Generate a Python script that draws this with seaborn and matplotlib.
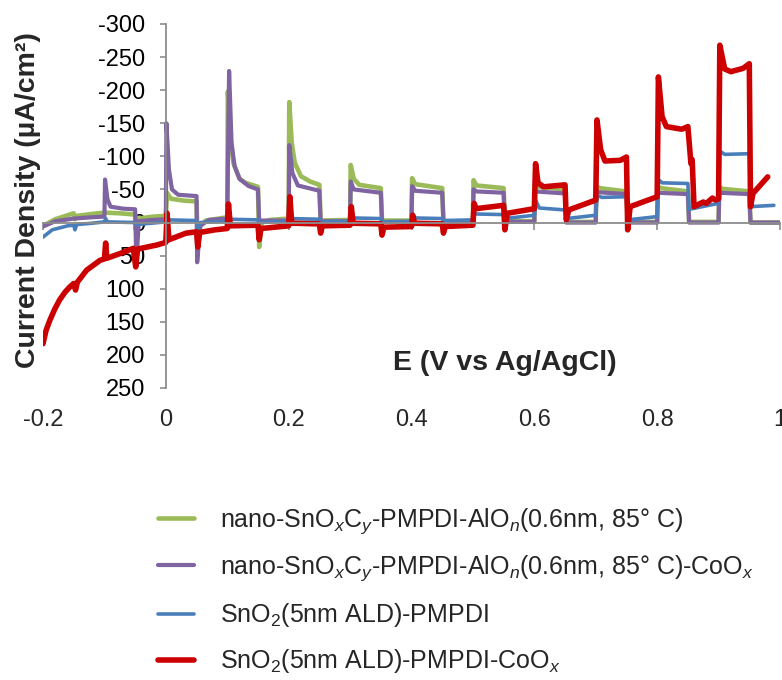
import numpy as np
import pandas as pd
import matplotlib
matplotlib.use("Agg")
import matplotlib.pyplot as plt
import seaborn as sns
from matplotlib.ticker import FuncFormatter

# ---------------- data ----------------
series_names = [
    r"nano-SnO$_x$C$_y$-PMPDI-AlO$_n$(0.6nm, 85° C)",
    r"nano-SnO$_x$C$_y$-PMPDI-AlO$_n$(0.6nm, 85° C)-CoO$_x$",
    r"SnO$_2$(5nm ALD)-PMPDI",
    r"SnO$_2$(5nm ALD)-PMPDI-CoO$_x$",
]
series_colors = ["#9BBB59", "#8064A2", "#4A7EBB", "#CC0000"]
series_widths = [3.3, 3.0, 2.6, 4.0]

green_E = [-0.2, -0.18, -0.16, -0.15, -0.148, -0.145, -0.12, -0.1, -0.075, -0.05, -0.049, -0.045,
           -0.02, 0.0, 0.002, 0.008, 0.03, 0.05, 0.052, 0.056, 0.065, 0.1, 0.101, 0.105, 0.11,
           0.12, 0.13, 0.15, 0.152, 0.156, 0.17, 0.2, 0.201, 0.205, 0.21, 0.22, 0.235, 0.25,
           0.252, 0.3, 0.301, 0.306, 0.315, 0.35, 0.352, 0.4, 0.401, 0.406, 0.45, 0.452, 0.5,
           0.501, 0.506, 0.55, 0.552, 0.6, 0.601, 0.606, 0.65, 0.652, 0.7, 0.701, 0.706, 0.75,
           0.752, 0.8, 0.801, 0.806, 0.85, 0.852, 0.9, 0.901, 0.906, 0.95, 0.952, 1.0]
green_J = [5, -5, -11, -14, -5, -10, -13, -15, -14, -12, 11, -6,
           -9, -10, -45, -36, -33, -32, 40, 5, -3, -8, -198, -130, -90,
           -66, -60, -54, 37, 0, -4, -6, -182, -120, -90, -70, -62, -57,
           -3, -4, -87, -66, -57, -52, -3, -3, -67, -58, -52, -2, -2,
           -64, -56, -52, -2, -2, -57, -54, -50, -1, -1, -55, -52, -47,
           -1, -1, -55, -52, -47, -1, -1, -54, -51, -47, 0, 0]

purple_E = [-0.2, -0.18, -0.15, -0.12, -0.1, -0.099, -0.095, -0.09, -0.07, -0.05, -0.048, -0.044,
            -0.02, 0.0, 0.001, 0.005, 0.01, 0.02, 0.05, 0.051, 0.056, 0.07, 0.1, 0.103, 0.107,
            0.112, 0.12, 0.135, 0.15, 0.152, 0.2, 0.201, 0.206, 0.215, 0.25, 0.252, 0.3, 0.301,
            0.306, 0.35, 0.352, 0.4, 0.401, 0.406, 0.45, 0.452, 0.5, 0.501, 0.506, 0.55, 0.552,
            0.6, 0.601, 0.65, 0.652, 0.7, 0.701, 0.75, 0.752, 0.8, 0.801, 0.85, 0.852, 0.9,
            0.901, 0.95, 0.952, 1.0]
purple_J = [6, -2, -6, -8, -9, -65, -35, -24, -21, -20, 60, -2,
            -4, -5, -150, -80, -50, -42, -40, 60, 5, -4, -6, -229, -120,
            -85, -66, -55, -50, -3, -3, -117, -75, -56, -48, -2, -2, -62,
            -50, -45, -1, -1, -55, -48, -45, -1, -1, -50, -47, -45, -1,
            -1, -47, -44, 0, 0, -46, -43, 0, 0, -45, -43, 0, 0,
            -45, -43, 0, 0]

blue_E = [-0.2, -0.185, -0.16, -0.15, -0.148, -0.145, -0.12, -0.1, -0.098, -0.095, -0.05, -0.048,
          0.0, 0.001, 0.005, 0.05, 0.052, 0.056, 0.1, 0.102, 0.15, 0.152, 0.2, 0.202, 0.25,
          0.252, 0.3, 0.302, 0.35, 0.352, 0.4, 0.402, 0.45, 0.452, 0.5, 0.502, 0.55, 0.552,
          0.6, 0.602, 0.608, 0.65, 0.652, 0.7, 0.702, 0.71, 0.75, 0.752, 0.8, 0.802, 0.808,
          0.85, 0.852, 0.9, 0.902, 0.91, 0.95, 0.952, 0.99]
blue_J = [22, 11, 5, 4, 11, 3, 1, -1, -6, -1, 0, 3,
          -1, -16, -4, -3, 9, 0, -2, -5, -4, 0, -2, -6, -5,
          -1, -2, -7, -6, -1, -2, -7, -6, -3, -4, -13, -12, -6,
          -11, -34, -22, -19, -6, -11, -41, -38, -39, -4, -9, -65, -60,
          -59, -20, -29, -108, -103, -104, -24, -26]

red_E = [-0.2, -0.195, -0.189, -0.181, -0.173, -0.164, -0.156, -0.15, -0.147, -0.144, -0.129,
         -0.107, -0.1, -0.098, -0.096,
         -0.075, -0.053, -0.049, -0.046, -0.015, 0.0, 0.002, 0.005, 0.033, 0.05, 0.052, 0.055,
         0.08, 0.1, 0.102, 0.105, 0.15, 0.152, 0.155, 0.2, 0.202, 0.205, 0.25, 0.252, 0.255,
         0.3, 0.302, 0.305, 0.35, 0.352, 0.355, 0.4, 0.402, 0.405, 0.45, 0.452, 0.455, 0.5,
         0.502, 0.505, 0.55, 0.552, 0.556, 0.6, 0.602, 0.606, 0.615, 0.65, 0.652, 0.656, 0.7,
         0.702, 0.708, 0.715, 0.74, 0.75, 0.752, 0.756, 0.8, 0.802, 0.808, 0.815, 0.84, 0.85,
         0.855, 0.857, 0.86, 0.875, 0.88, 0.89, 0.895, 0.9, 0.902, 0.91, 0.92, 0.94, 0.95,
         0.952, 0.956, 0.98]
red_J = [183, 163, 148, 131, 117, 105, 97, 92, 102, 90, 72,
         57, 55, 31, 54,
         47, 39, 67, 40, 34, 30, -14, 26, 16, 14, 37, 15,
         11, 9, -28, 5, 4, 26, 9, 5, -39, 1, 2, 16, 5,
         4, -24, 1, 2, 19, 7, 6, -11, 1, 2, 16, 6, 4,
         -29, -21, -26, 11, -14, -21, -89, -60, -54, -57, -4, -19, -34,
         -155, -110, -93, -94, -99, 11, -24, -39, -220, -160, -145, -141, -145,
         -89, -95, -24, -31, -29, -37, -34, -36, -268, -232, -228, -233, -240,
         -24, -44, -69]

x_ticks = [-0.2, 0.0, 0.2, 0.4, 0.6, 0.8, 1.0]
x_tick_labels = ["-0.2", "0", "0.2", "0.4", "0.6", "0.8", "1"]
y_ticks = [-300, -250, -200, -150, -100, -50, 0, 50, 100, 150, 200, 250]

frames = []
for name, E, J in zip(series_names,
                      [green_E, purple_E, blue_E, red_E],
                      [green_J, purple_J, blue_J, red_J]):
    frames.append(pd.DataFrame({"E": E, "J": J, "series": name}))
df = pd.concat(frames, ignore_index=True)

# ---------------- style ----------------
sns.set_style("white")
plt.rcParams["font.family"] = ["Liberation Sans", "DejaVu Sans"]
plt.rcParams["mathtext.fontset"] = "custom"
plt.rcParams["mathtext.rm"] = "Liberation Sans"
plt.rcParams["mathtext.it"] = "Liberation Sans:italic"
plt.rcParams["mathtext.bf"] = "Liberation Sans:bold"
plt.rcParams["axes.unicode_minus"] = False

fig = plt.figure(figsize=(7.82, 6.8), dpi=100)
ax = fig.add_axes([43 / 782, 1 - 388 / 680, 737 / 782, 364 / 680])

handles = []
for name, col, lw in zip(series_names, series_colors, series_widths):
    sub = df[df["series"] == name]
    sns.lineplot(data=sub, x="E", y="J", color=col, linewidth=lw, sort=False,
                 estimator=None, ax=ax, legend=False, label=name)
    handles.append(ax.get_lines()[-1])

ax.set_xlim(-0.2, 1.0)
ax.set_ylim(250, -300)
ax.set_yticks(y_ticks)
ax.yaxis.set_major_formatter(FuncFormatter(lambda v, p: str(int(round(v)))))
ax.set_xticks(x_ticks)

axis_gray = "#8C8C8C"
for s in ["top", "right"]:
    ax.spines[s].set_visible(False)
ax.spines["left"].set_position(("data", 0))
ax.spines["bottom"].set_position(("data", 0))
for s in ["left", "bottom"]:
    ax.spines[s].set_color(axis_gray)
    ax.spines[s].set_linewidth(1.3)

ax.tick_params(axis="y", left=True, direction="out", length=4.5, width=1.2,
               color=axis_gray, pad=10.5, labelsize=17, labelcolor="black")
ax.tick_params(axis="x", bottom=True, direction="out", length=5, width=1.2,
               color=axis_gray, labelbottom=False)

sec = ax.secondary_xaxis("bottom")
sec.set_xticks(x_ticks)
sec.set_xticklabels(x_tick_labels)
sec.tick_params(length=0, pad=15, labelsize=17)
sec.spines["bottom"].set_visible(False)

ax.set_xlabel("E (V vs Ag/AgCl)", fontsize=20.5, fontweight="bold")
ax.xaxis.set_label_coords(0.627, 0.104)
ax.set_ylabel("Current Density (µA/cm²)", fontsize=20.5, fontweight="bold")
ax.yaxis.set_label_coords(-0.003, 0.515)

fig.legend(handles, series_names, loc="upper left",
           bbox_to_anchor=(158 / 782, 1 - 506 / 680), frameon=False, fontsize=18,
           handlelength=1.45, handletextpad=1.05, labelspacing=0.72,
           borderpad=0, borderaxespad=0)

fig.savefig("out.png", dpi=100)
